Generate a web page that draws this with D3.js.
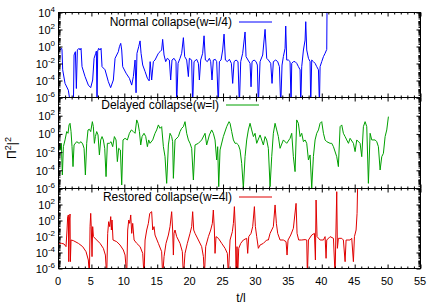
<!DOCTYPE html>
<html>
<head>
<meta charset="utf-8">
<script src="https://cdn.jsdelivr.net/npm/d3@7"></script>
<style>
body { margin: 0; background: #fff; }
text { font-family: "Liberation Sans", Arial, Helvetica, sans-serif; }
</style>
</head>
<body>
<svg id="chart" width="436" height="305"></svg>
<script>
// Data: [t/l, log10 of the plotted value]
var normalCollapse = [
  [0,-0.86],[0.31,-0.47],[0.56,-0.27],[0.61,-0.47],[0.71,-2.8],[1.07,-4.4],[1.57,-5.2],[1.93,-7],
  [2.34,-7],[2.44,-1.06],[2.64,-0.67],[2.79,-5.0],[2.94,-0.47],[3.2,-0.27],[3.35,-0.47],[3.5,-0.27],[3.65,-2.43],
  [4.11,-3.6],[4.61,-4.6],[4.97,-4.9],[5.27,-4.0],[5.48,-1.45],[5.73,-0.86],[5.83,-0.6],[5.93,-7],[6.03,-0.6],
  [6.18,-0.27],[6.39,-0.47],[6.54,-0.27],[6.69,-2.43],[7.15,-2.8],[7.65,-4.2],[8.0,-4.9],[8.41,-4.0],[8.67,-1.45],
  [8.92,-1.06],[9.17,-0.67],[9.33,-0.08],[9.53,0.31],[9.68,-0.47],[9.83,-2.43],[10.34,-3.2],[10.85,-3.8],[11.2,-4.6],
  [11.45,-3.6],[11.71,-1.65],[11.86,-5.5],[12.0,-0.86],[12.26,-0.08],[12.47,0.6],[12.62,-0.86],[12.87,-2.24],
  [13.23,-3.0],[13.58,-3.8],[13.85,-4.1],[14.0,-1.84],[14.23,-4.0],[14.49,-1.84],[14.74,-1.65],[15.25,-0.86],
  [15.5,-0.67],[15.75,-0.47],[15.9,0.78],[16.11,-1.06],[16.36,-1.84],[16.61,-1.45],[16.92,-1.65],[17.12,-4.0],
  [17.32,-1.65],[17.63,-1.45],[17.93,-1.84],[18.03,-7],[18.24,-2.04],[18.54,-1.45],[18.79,-0.86],[19.05,0.98],
  [19.25,-1.25],[19.55,-1.65],[19.81,-3.6],[19.96,-1.45],[20.31,-1.65],[20.46,-7],[20.67,-1.84],[21.07,-1.57],
  [21.33,-2.04],[21.48,-4.0],[21.68,-1.65],[21.98,-0.86],[22.19,1.2],[22.39,-1.65],[22.69,-1.84],[23.0,-1.45],
  [23.2,-1.84],[23.4,-4.0],[23.6,-1.65],[23.9,-1.57],[24.11,-1.84],[24.36,-7],[24.52,-1.84],[24.77,-1.65],
  [25.02,-0.47],[25.23,1.4],[25.43,-1.65],[25.73,-1.84],[26.04,-1.57],[26.34,-2.04],[26.54,-4.4],[26.75,-1.84],
  [27.05,-1.65],[27.35,-1.84],[27.56,-7],[27.76,-1.84],[28.06,-0.86],[28.42,1.65],[28.57,-1.25],[28.87,-1.65],
  [29.18,-2.04],[29.33,-4.8],[29.48,-1.84],[29.79,-1.65],[30.09,-1.84],[30.29,-2.24],[30.44,-7],[30.7,-1.84],
  [31.1,-1.06],[31.46,1.96],[31.71,-1.45],[31.96,-1.65],[32.32,-2.04],[32.52,-4.4],[32.72,-1.84],[33.08,-1.65],
  [33.38,-1.84],[33.64,-2.43],[33.84,-7],[34.04,-2.24],[34.24,-1.25],[34.5,-0.27],[34.6,2.35],[34.75,-1.65],
  [35.0,-1.65],[35.26,-1.84],[35.41,-7],[35.51,-2.04],[35.77,-1.84],[36.02,-1.84],[36.27,-2.04],[36.53,-2.43],
  [36.78,-2.8],[36.88,-7],[37.03,-2.43],[37.29,-0.47],[37.54,0.7],[37.64,2.86],[37.79,-0.47],[38.05,-1.45],
  [38.3,-1.84],[38.4,-7],[38.55,-1.65],[38.8,-1.84],[39.06,-2.04],[39.31,-2.43],[39.57,-2.8],[39.72,-7],
  [39.82,-2.43],[40.07,-1.84],[40.33,-1.25],[40.58,-0.86],[40.83,-0.4],[40.88,5]
]

var delayedCollapse = [
  [0.1,-1.09],[0.31,-1.82],[0.51,-1.09],[0.66,-4.57],[0.82,-1.46],[1.07,-0.72],[1.32,0.2],[1.52,0.01],[1.68,0.93],
  [1.83,1.11],[1.98,0.2],[2.13,-1.46],[2.28,-3.65],[2.44,-1.27],[2.84,-0.91],[3.2,-1.09],[3.5,-0.91],[3.75,-1.16],
  [3.96,-1.64],[4.16,-4.57],[4.36,-1.09],[4.56,0.38],[4.77,0.45],[4.97,0.2],[5.22,1.29],[5.37,0.74],[5.53,-1.09],
  [5.68,-0.35],[5.88,0.2],[6.08,-0.17],[6.29,-2.37],[6.49,-0.72],[6.69,-0.35],[6.89,-0.72],[7.1,-1.64],[7.3,-4.75],
  [7.5,-1.09],[7.81,-1.09],[8.06,-0.91],[8.31,-1.46],[8.57,-0.35],[8.82,-0.72],[9.02,-3.1],[9.22,-1.64],[9.48,-1.82],
  [9.68,-5.67],[9.88,-0.72],[10.19,-0.54],[10.54,-0.72],[10.85,0.01],[11.15,0.38],[11.45,0.2],[11.71,0.01],
  [11.96,1.48],[12.16,1.11],[12.37,0.2],[12.57,-1.27],[12.77,-0.35],[13.07,0.01],[13.33,-0.35],[13.58,-1.46],
  [13.78,-0.72],[13.98,-1.09],[14.39,-0.72],[14.74,0.01],[14.99,0.38],[15.25,0.93],[15.5,0.56],[15.75,0.74],
  [16.01,-1.46],[16.26,-2.56],[16.51,-5.49],[16.77,-1.27],[17.02,0.01],[17.27,-0.35],[17.42,-0.91],[17.53,-4.94],
  [17.78,-0.72],[18.29,-0.35],[18.54,0.2],[18.79,0.56],[19.05,0.74],[19.3,1.29],[19.55,0.01],[19.81,-0.72],
  [20.06,-1.09],[20.31,-1.64],[20.57,-5.12],[20.82,-1.27],[21.33,-1.09],[21.83,-0.72],[22.34,0.01],[22.59,-1.27],
  [23.0,-0.17],[23.35,0.38],[23.6,0.01],[23.86,-0.72],[24.11,-2.92],[24.26,-1.46],[24.42,-5.85],[24.62,-1.82],
  [25.12,-0.35],[25.63,0.74],[25.99,1.29],[26.14,1.11],[26.39,0.2],[26.65,-0.72],[26.9,-1.09],[27.15,-1.09],
  [27.41,-1.27],[27.66,-1.82],[27.91,-3.29],[28.16,-6.03],[28.42,-2.56],[28.67,-0.72],[28.92,0.38],[29.18,1.11],
  [29.43,0.38],[29.69,-0.35],[29.94,0.01],[30.19,-1.09],[30.7,-0.17],[31.2,-1.27],[31.46,-0.35],[31.71,-0.72],
  [31.96,-1.64],[32.22,-5.85],[32.47,-2.56],[32.72,0.01],[32.98,1.11],[33.23,0.38],[33.48,-0.35],[33.74,-1.64],
  [34.24,-0.72],[34.75,-1.09],[35.26,-0.54],[35.51,0.01],[35.76,-2.56],[36.02,-4.2],[36.27,1.48],[36.52,1.11],
  [36.78,-0.35],[37.03,0.01],[37.29,-0.91],[37.54,-0.72],[37.79,-1.09],[38.05,-2.92],[38.3,-2.37],[38.55,-6.03],
  [38.8,-2.56],[39.06,-0.72],[39.31,0.01],[39.57,0.38],[39.82,1.11],[40.07,1.29],[40.33,0.01],[40.58,-0.72],
  [40.83,-0.91],[41.34,-1.09],[41.59,-1.09],[41.85,-1.46],[42.35,-2.56],[42.6,-3.65],[42.86,0.74],[43.11,0.93],
  [43.36,0.01],[43.62,-0.35],[43.87,-0.72],[44.13,-1.09],[44.38,-0.54],[44.88,-1.09],[45.14,-2.0],[45.39,-0.72],
  [45.9,-1.09],[46.15,-2.56],[46.4,0.74],[46.66,1.29],[46.91,0.74],[47.16,-5.49],[47.42,0.01],[47.67,-0.72],
  [48.18,-0.72],[48.43,-0.91],[48.68,-1.46],[48.94,-4.02],[49.19,-2.56],[49.44,-2.19],[49.7,-0.35],[49.95,0.38],
  [50.2,1.84]
]

var restoredCollapse = [
  [0.1,-2.92],[0.56,-2.92],[0.92,-3.0],[1.22,-3.33],[1.37,-1.25],[1.47,0.42],[1.58,0.63],[1.63,-5.21],[1.73,0.0],
  [1.83,0.75],[1.88,-5.21],[1.98,-2.5],[2.33,-2.58],[3.1,-2.92],[3.75,-3.33],[4.26,-3.96],[4.61,-5.0],[4.77,-7],
  [4.87,-0.83],[4.97,0.83],[5.07,-1.25],[5.17,-4.58],[5.27,-0.83],[5.38,-2.08],[5.88,-2.5],[6.39,-2.92],[6.89,-3.54],
  [7.2,-4.38],[7.4,-7],[7.55,-1.67],[7.7,-0.21],[7.86,-0.83],[8.01,0.42],[8.11,-1.25],[8.21,0.0],[8.36,-2.5],
  [8.92,-2.71],[9.43,-3.13],[9.93,-3.75],[10.19,-4.38],[10.44,-7],[10.59,-1.25],[10.75,0.0],[10.9,-0.42],[11.05,0.63],
  [11.2,-1.67],[11.35,-0.42],[11.56,-2.5],[11.96,-2.92],[12.47,-3.33],[12.87,-4.17],[13.07,-7],[13.23,-2.5],
  [13.48,-1.25],[13.73,-0.42],[13.94,0.83],[14.23,1.04],[14.39,-1.25],[14.59,-0.83],[14.74,-1.88],[15.25,-2.92],
  [15.75,-3.96],[15.9,-7],[16.11,-4.58],[16.41,-2.92],[16.77,-1.88],[17.02,-0.83],[17.27,1.04],[17.42,-1.25],
  [17.53,-4.38],[17.63,-1.67],[17.78,-1.25],[18.03,-2.08],[18.54,-2.92],[18.89,-3.96],[19.05,-7],[19.3,-4.17],
  [19.65,-2.92],[20.06,-1.67],[20.31,-0.83],[20.46,1.04],[20.62,-1.25],[20.82,-1.67],[21.33,-2.5],[21.83,-3.33],
  [22.09,-4.58],[22.24,-7],[22.44,-3.33],[22.85,-2.08],[23.2,-1.25],[23.45,-0.42],[23.6,1.25],[23.76,-1.25],
  [23.86,-4.17],[24.01,-2.08],[24.37,-2.29],[24.87,-2.92],[25.38,-3.54],[25.73,-4.17],[25.88,-7],[26.14,-2.5],
  [26.49,-1.46],[26.65,-0.42],[26.8,1.67],[26.95,-1.25],[27.05,-7],[27.2,-3.33],[27.3,-7],[27.46,-3.54],
  [27.76,-2.92],[28.16,-2.5],[28.67,-2.29],[28.82,-4.17],[28.98,-2.08],[29.33,-1.67],[29.58,-0.83],[29.84,1.67],
  [29.99,-0.83],[30.19,-2.08],[30.44,-3.54],[30.7,-3.13],[31.2,-2.92],[31.71,-2.5],[31.96,-2.5],[32.22,-1.67],
  [32.72,-0.83],[32.98,1.88],[33.18,-0.42],[33.38,-1.67],[33.74,-2.5],[34.24,-2.5],[34.65,-2.71],[34.8,-4.38],
  [34.95,-2.5],[35.36,-1.88],[35.76,-1.04],[36.17,2.08],[36.32,-1.67],[36.57,-2.5],[37.03,-2.5],[37.54,-2.45],
  [37.79,-2.5],[37.89,-7],[38.05,-2.5],[38.55,-1.88],[38.96,-1.67],[39.11,-5.0],[39.21,2.5],[39.36,-2.08],
  [39.82,-2.5],[40.33,-2.5],[40.58,-2.08],[40.73,-4.79],[40.83,-2.5],[41.34,-2.08],[41.85,-2.29],[42.1,-7],
  [42.2,-2.5],[42.35,3.54],[42.45,-3.54],[42.6,-2.29],[43.11,-2.29],[43.36,-2.5],[43.62,-5.21],[43.77,-2.5],
  [44.38,-2.5],[44.63,-2.29],[44.88,-5.21],[45.04,-2.08],[45.29,-1.25],[45.44,0.83],[45.54,5]
]

var seriesNames = ["Normal collapse(w=l/4)", "Delayed collapse(w=l)", "Restored collapse(w=4l)"]
var xTickValues = [0, 5, 10, 15, 20, 25, 30, 35, 40, 45, 50, 55]
var yTickExps = [-6, -4, -2, 0, 2, 4]

// Layout
var left = 58, right = 420
var panels = [
  {top: 12, bottom: 97, data: normalCollapse, color: "#0000ff", keyX: 239, keyY: 22, labelTop: true},
  {top: 97, bottom: 188, data: delayedCollapse, color: "#00a000", keyX: 226, keyY: 105, labelTop: false},
  {top: 188, bottom: 268, data: restoredCollapse, color: "#e00000", keyX: 239, keyY: 197, labelTop: false}
]

var svg = d3.select("#chart")
var x = d3.scaleLinear().domain([0, 55]).range([left, right])

// minor tick values
var xMinor = d3.range(0, 56).filter(function(v) { return v % 5 != 0 })
var yMinor = []
for (var e = -6; e < 4; e++) {
  if (e % 2 != 0) yMinor.push(Math.pow(10, e))
  for (var k = 2; k <= 9; k++) yMinor.push(k * Math.pow(10, e))
}

panels.forEach(function(p, i) {
  var y = d3.scaleLog().domain([1e-6, 1e4]).range([p.bottom, p.top])

  // Clip
  svg.append("clipPath").attr("id", "clip" + i)
  .append("rect")
  .attr("x", left).attr("y", p.top)
  .attr("width", right - left).attr("height", p.bottom - p.top)

  // Line
  var line = d3.line()
  .x(function(d) { return x(d[0]) })
  .y(function(d) { return y(Math.pow(10, d[1])) })

  svg.append("path")
  .datum(p.data)
  .attr("clip-path", "url(#clip" + i + ")")
  .attr("d", line)
  .attr("fill", "none")
  .attr("stroke", p.color)
  .attr("stroke-width", 1)

  // Ticks, all pointing inwards
  var axes = svg.append("g").attr("transform", "translate(0.5,0.5)")
  function addAxis(axis, tx, ty) {
    var g = axes.append("g").attr("transform", "translate(" + tx + "," + ty + ")").call(axis)
    g.select(".domain").remove()
    g.selectAll("line").attr("stroke", "#000")
  }
  addAxis(d3.axisBottom(x).tickValues(xTickValues).tickSize(-4).tickFormat(""), 0, p.bottom)
  addAxis(d3.axisBottom(x).tickValues(xMinor).tickSize(-2).tickFormat(""), 0, p.bottom)
  addAxis(d3.axisTop(x).tickValues(xTickValues).tickSize(-4).tickFormat(""), 0, p.top)
  addAxis(d3.axisTop(x).tickValues(xMinor).tickSize(-2).tickFormat(""), 0, p.top)
  var yMajor = yTickExps.map(function(v) { return Math.pow(10, v) })
  addAxis(d3.axisLeft(y).tickValues(yMajor).tickSize(-4).tickFormat(""), left, 0)
  addAxis(d3.axisLeft(y).tickValues(yMinor).tickSize(-2).tickFormat(""), left, 0)
  addAxis(d3.axisRight(y).tickValues(yMajor).tickSize(-4).tickFormat(""), right, 0)
  addAxis(d3.axisRight(y).tickValues(yMinor).tickSize(-2).tickFormat(""), right, 0)

  // Frame
  axes.append("rect")
  .attr("x", left).attr("y", p.top)
  .attr("width", right - left).attr("height", p.bottom - p.top)
  .attr("fill", "none").attr("stroke", "#000")

  // Y tick labels: 10^n
  yTickExps.forEach(function(ex) {
    if (ex == 4 && !p.labelTop) return
    var t = svg.append("text")
    .attr("x", 55).attr("y", y(Math.pow(10, ex)) + 5)
    .attr("text-anchor", "end")
    .attr("font-size", 11)
    .text("10")
    t.append("tspan").attr("dy", -5).attr("font-size", 8).text(ex)
  })

  // Key
  svg.append("text")
  .attr("x", p.keyX - 7).attr("y", p.keyY + 4)
  .attr("text-anchor", "end")
  .attr("font-size", 12)
  .text(seriesNames[i])
  svg.append("line")
  .attr("x1", p.keyX).attr("x2", p.keyX + 33)
  .attr("y1", p.keyY).attr("y2", p.keyY)
  .attr("stroke", p.color).attr("stroke-width", 1)
})

// X tick labels on the bottom panel
var last = panels[panels.length - 1]
xTickValues.forEach(function(v) {
  svg.append("text")
  .attr("x", x(v)).attr("y", last.bottom + 17)
  .attr("text-anchor", "middle")
  .attr("font-size", 11)
  .text(v)
})

// Axis titles
svg.append("text")
.attr("x", 241).attr("y", 302)
.attr("text-anchor", "middle")
.attr("font-size", 12)
.text("t/l")

var ylab = svg.append("text")
.attr("transform", "translate(16,148) rotate(-90)")
.attr("text-anchor", "middle")
.attr("font-size", 12)
ylab.append("tspan").text("Π")
ylab.append("tspan").attr("dy", -5).attr("font-size", 9).text("2")
ylab.append("tspan").attr("dy", 5).text("|")
ylab.append("tspan").attr("dy", -5).attr("font-size", 9).text("2")
</script>
</body>
</html>
